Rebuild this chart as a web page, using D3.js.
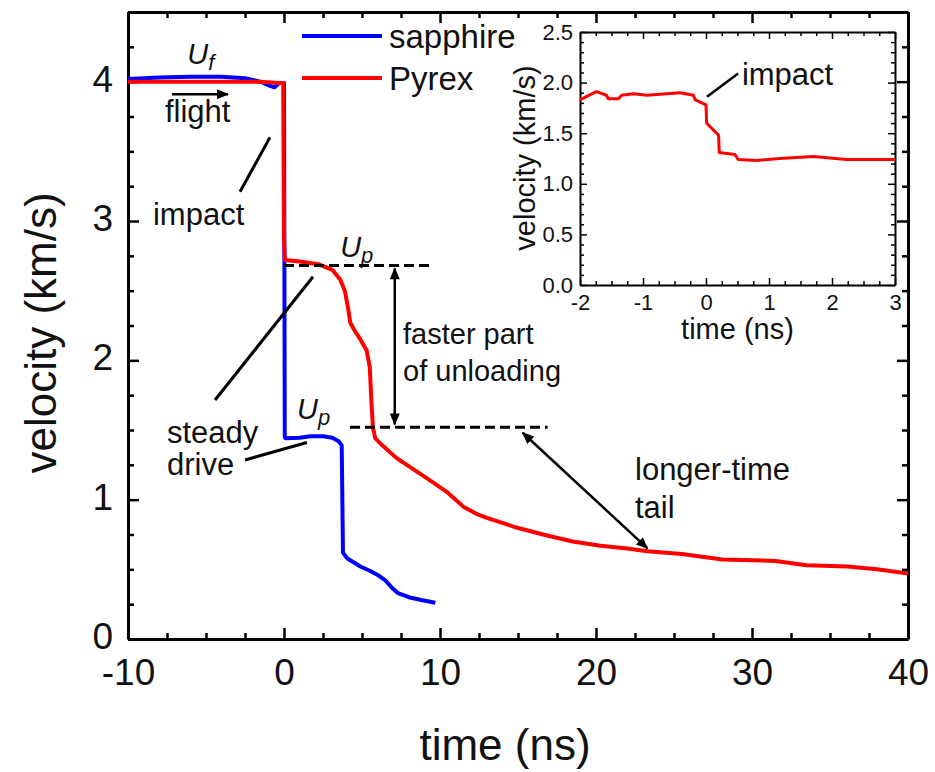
<!DOCTYPE html>
<html>
<head>
<meta charset="utf-8">
<script src="https://cdn.jsdelivr.net/npm/d3@7"></script>
<style>
  body { margin: 0; background: #fff; }
  svg { display: block; }
  text { font-family: "Liberation Sans", Arial, sans-serif; fill: #111; }
</style>
</head>
<body>
<svg id="chart" width="935" height="772"></svg>
<script>
// ---- data -------------------------------------------------------------
const seriesNames = ["sapphire", "Pyrex"];
const seriesColors = ["#0000ff", "#ff0000"];

const sapphireTime = [-10, -8, -6, -4, -2.5, -1.5, -0.9, -0.6, -0.3, 0.0, 0.05, 0.1, 1.0, 1.7, 2.5, 3.1, 3.5, 3.7, 3.78, 4.04, 4.9, 5.5, 6.0, 6.5, 6.9, 7.3, 8.0, 8.8, 9.7];
const sapphireVel  = [4.02, 4.03, 4.035, 4.035, 4.025, 4.0, 3.97, 3.96, 3.99, 3.99, 1.45, 1.44, 1.445, 1.455, 1.455, 1.445, 1.42, 1.39, 0.62, 0.58, 0.52, 0.49, 0.46, 0.42, 0.37, 0.33, 0.30, 0.28, 0.26];

const pyrexTime = [-10, -6, -2, -1, -0.3, -0.05, 0.0, 0.05, 1.0, 2.2, 3.1, 3.6, 3.9, 4.1, 4.25, 4.6, 4.9, 5.3, 5.5, 5.6, 5.7, 5.85, 6.3, 7.2, 8.4, 9.6, 10.5, 11.5, 12.3, 13.0, 14.9, 16.6, 18.5, 20.3, 22.0, 23.3, 25.5, 28.1, 30.1, 31.5, 33.5, 36.1, 38.0, 40.0];
const pyrexVel  = [4.0, 4.0, 4.0, 3.995, 3.99, 3.99, 2.9, 2.72, 2.71, 2.69, 2.65, 2.58, 2.50, 2.38, 2.27, 2.20, 2.15, 2.07, 1.95, 1.71, 1.52, 1.44, 1.39, 1.30, 1.21, 1.12, 1.05, 0.95, 0.90, 0.87, 0.80, 0.75, 0.70, 0.67, 0.65, 0.63, 0.61, 0.57, 0.565, 0.56, 0.53, 0.52, 0.50, 0.47];

// inset: Pyrex trace around impact
const insetTime = [-2.0, -1.97, -1.74, -1.58, -1.55, -1.39, -1.34, -1.15, -0.94, -0.73, -0.41, -0.20, -0.17, 0.0, 0.01, 0.20, 0.21, 0.46, 0.51, 0.80, 1.17, 1.70, 2.23, 2.97, 3.0];
const insetVel  = [1.83, 1.84, 1.91, 1.875, 1.84, 1.84, 1.875, 1.89, 1.875, 1.885, 1.90, 1.875, 1.83, 1.78, 1.60, 1.48, 1.31, 1.29, 1.24, 1.23, 1.25, 1.27, 1.24, 1.24, 1.24];

const xTicks = [-10, 0, 10, 20, 30, 40];
const yTicks = [0, 1, 2, 3, 4];
const insetXTicks = [-2, -1, 0, 1, 2, 3];
const insetYTicks = [0.0, 0.5, 1.0, 1.5, 2.0, 2.5];

// ---- layout -----------------------------------------------------------
const svg = d3.select("#chart");
const x = d3.scaleLinear().domain([-10, 40]).range([128, 908]);
const y = d3.scaleLinear().domain([0, 4.5]).range([639, 12]);
const xi = d3.scaleLinear().domain([-2, 3]).range([580, 895]);
const yi = d3.scaleLinear().domain([0, 2.5]).range([285, 32]);

const FONT = '"Liberation Sans", Arial, sans-serif';
// plain hyphen for negative numbers
const fmtInt = v => String(v);
const fmtOne = v => v.toFixed(1);

svg.append("defs").call(defs => {
  defs.append("marker").attr("id", "head")
    .attr("viewBox", "0 0 12 10").attr("refX", 11).attr("refY", 5)
    .attr("markerWidth", 13).attr("markerHeight", 10)
    .attr("markerUnits", "userSpaceOnUse").attr("orient", "auto-start-reverse")
    .append("path").attr("d", "M0,0 L12,5 L0,10 Z").attr("fill", "#000");
});

// minor tick values
function range(a, b, step) { const out = []; for (let v = a; v <= b + 1e-9; v += step) out.push(+v.toFixed(4)); return out; }
const xMinor = range(-10, 40, 2.5).filter(v => !xTicks.includes(v));
const yMinor = range(0, 4.5, 0.25).filter(v => !yTicks.includes(v));
const xiMinor = range(-2, 3, 0.25).filter(v => !insetXTicks.includes(v));
const yiMinor = range(0, 2.5, 0.1).filter(v => !insetYTicks.some(t => Math.abs(t - v) < 1e-6));

function frame(g, xs, ys, major, minor, opts) {
  const [x0, x1] = xs.range(), [y0, y1] = ys.range();
  const sides = [
    { gen: d3.axisBottom(xs), t: `translate(0,${y0})`, maj: opts.xt, min: opts.xm, fmt: opts.fx, pad: opts.padX, left: false },
    { gen: d3.axisTop(xs), t: `translate(0,${y1})`, maj: opts.xt, min: opts.xm, fmt: null, pad: 3, left: false },
    { gen: d3.axisLeft(ys), t: `translate(${x0},0)`, maj: opts.yt, min: opts.ym, fmt: opts.fy, pad: opts.padY, left: true },
    { gen: d3.axisRight(ys), t: `translate(${x1},0)`, maj: opts.yt, min: opts.ym, fmt: null, pad: 3, left: false }
  ];
  sides.forEach(d => {
    const ax = g.append("g").attr("transform", d.t);
    ax.call(d.gen.tickValues(d.min).tickSize(-minor).tickSizeOuter(0).tickFormat(""));
    ax.select(".domain").remove();
    ax.selectAll("line").attr("stroke", "#000").attr("stroke-width", opts.tw);
    const ax2 = g.append("g").attr("transform", d.t);
    ax2.call(d.gen.tickValues(d.maj).tickSize(-major).tickSizeOuter(0)
      .tickPadding(d.pad).tickFormat(d.fmt ? d.fmt : ""));
    ax2.select(".domain").attr("stroke", "#000").attr("stroke-width", opts.sw);
    ax2.selectAll("line").attr("stroke", "#000").attr("stroke-width", opts.tw);
    const txt = ax2.selectAll("text").attr("font-family", FONT).attr("font-size", opts.fs).attr("fill", "#111");
    if (d.left) txt.attr("dy", opts.dyY);
  });
}

// ---- main panel -------------------------------------------------------
const main = svg.append("g");
frame(main, x, y, 11, 6, {
  xt: xTicks, yt: yTicks, xm: xMinor, ym: yMinor, sw: 3, tw: 2.5, fs: 37,
  padX: 20, padY: 15, dyY: "0.26em", fx: fmtInt, fy: fmtInt
});

const line = d3.line().x(d => x(d[0])).y(d => y(d[1]));
const sapphire = d3.zip(sapphireTime, sapphireVel);
const pyrex = d3.zip(pyrexTime, pyrexVel);
main.append("path").datum(sapphire).attr("d", line)
  .attr("fill", "none").attr("stroke", seriesColors[0]).attr("stroke-width", 4).attr("stroke-linejoin", "round");
main.append("path").datum(pyrex).attr("d", line)
  .attr("fill", "none").attr("stroke", seriesColors[1]).attr("stroke-width", 4).attr("stroke-linejoin", "round");

// dashed reference levels (U_p levels)
const upHigh = 2.68, upLow = 1.52;
main.append("line").attr("x1", x(0)).attr("x2", x(9.55)).attr("y1", y(upHigh)).attr("y2", y(upHigh))
  .attr("stroke", "#000").attr("stroke-width", 3).attr("stroke-dasharray", "10,5");
main.append("line").attr("x1", x(4.23)).attr("x2", x(16.9)).attr("y1", y(upLow)).attr("y2", y(upLow))
  .attr("stroke", "#000").attr("stroke-width", 3).attr("stroke-dasharray", "10,5");

// annotation lines (data coordinates)
function seg(g, a, b, w, heads) {
  const l = g.append("line").attr("x1", x(a[0])).attr("y1", y(a[1])).attr("x2", x(b[0])).attr("y2", y(b[1]))
    .attr("stroke", "#000").attr("stroke-width", w);
  if (heads === "end" || heads === "both") l.attr("marker-end", "url(#head)");
  if (heads === "both") l.attr("marker-start", "url(#head)");
}
seg(main, [-7.18, 3.91], [-3.59, 3.91], 2.5, "end");            // flight
seg(main, [-2.82, 3.21], [-0.9, 3.60], 3, "none");              // impact
seg(main, [-4.42, 1.715], [1.86, 2.60], 3, "none");             // steady drive (upper)
seg(main, [-2.5, 1.285], [1.47, 1.41], 3, "none");              // steady drive (lower)
seg(main, [7.1, upHigh - 0.02], [7.1, upLow + 0.02], 2.5, "both"); // faster part of unloading
seg(main, [15.3, 1.48], [23.3, 0.65], 2.5, "both");             // longer-time tail

function label(g, tx, ty, str, size) {
  return g.append("text").attr("x", x(tx)).attr("y", y(ty)).attr("font-size", size).text(str);
}
label(main, -7.63, 3.71, "flight", 31);
label(main, -8.4, 2.97, "impact", 31);
label(main, -7.5, 1.41, "steady", 31);
label(main, -7.5, 1.18, "drive", 31);
label(main, 7.63, 2.12, "faster part", 29);
label(main, 7.63, 1.85, "of unloading", 29);
label(main, 22.5, 1.14, "longer-time", 31);
label(main, 22.5, 0.87, "tail", 31);

function sub(g, tx, ty, main_, s) {
  const t = g.append("text").attr("x", x(tx)).attr("y", y(ty)).attr("font-style", "italic").attr("font-size", 29);
  t.append("tspan").text(main_);
  t.append("tspan").attr("dy", 6).attr("font-size", 22).text(s);
}
sub(main, -6.2, 4.13, "U", "f");
sub(main, 3.6, 2.745, "U", "p");
sub(main, 0.83, 1.58, "U", "p");

// legend
const leg = main.append("g");
seriesNames.forEach((n, i) => {
  const ly = 36 + i * 42;
  leg.append("line").attr("x1", 302).attr("x2", 382).attr("y1", ly).attr("y2", ly)
    .attr("stroke", seriesColors[i]).attr("stroke-width", 4);
  leg.append("text").attr("x", 389).attr("y", ly).attr("dy", "0.35em").attr("font-size", 33).text(n);
});

// axis titles
svg.append("text").attr("x", 505).attr("y", 760).attr("text-anchor", "middle").attr("font-size", 44).text("time (ns)");
svg.append("text").attr("transform", "translate(56,333) rotate(-90)").attr("text-anchor", "middle").attr("font-size", 44).text("velocity (km/s)");

// ---- inset ------------------------------------------------------------
const inset = svg.append("g");
frame(inset, xi, yi, 7, 4, {
  xt: insetXTicks, yt: insetYTicks, xm: xiMinor, ym: yiMinor, sw: 2, tw: 1.5, fs: 22,
  padX: 9, padY: 7, dyY: "0.32em", fx: fmtInt, fy: fmtOne
});
const lineI = d3.line().x(d => xi(d[0])).y(d => yi(d[1]));
inset.append("path").datum(d3.zip(insetTime, insetVel)).attr("d", lineI)
  .attr("fill", "none").attr("stroke", seriesColors[1]).attr("stroke-width", 3).attr("stroke-linejoin", "round");
inset.append("line").attr("x1", xi(0.016)).attr("y1", yi(1.86)).attr("x2", xi(0.51)).attr("y2", yi(2.09))
  .attr("stroke", "#000").attr("stroke-width", 2.5);
inset.append("text").attr("x", xi(0.57)).attr("y", yi(1.98)).attr("font-size", 31).text("impact");
inset.append("text").attr("x", xi(0.5)).attr("y", 339).attr("text-anchor", "middle").attr("font-size", 29).text("time (ns)");
inset.append("text").attr("transform", "translate(535,158) rotate(-90)").attr("text-anchor", "middle").attr("font-size", 29).text("velocity (km/s)");
</script>
</body>
</html>
